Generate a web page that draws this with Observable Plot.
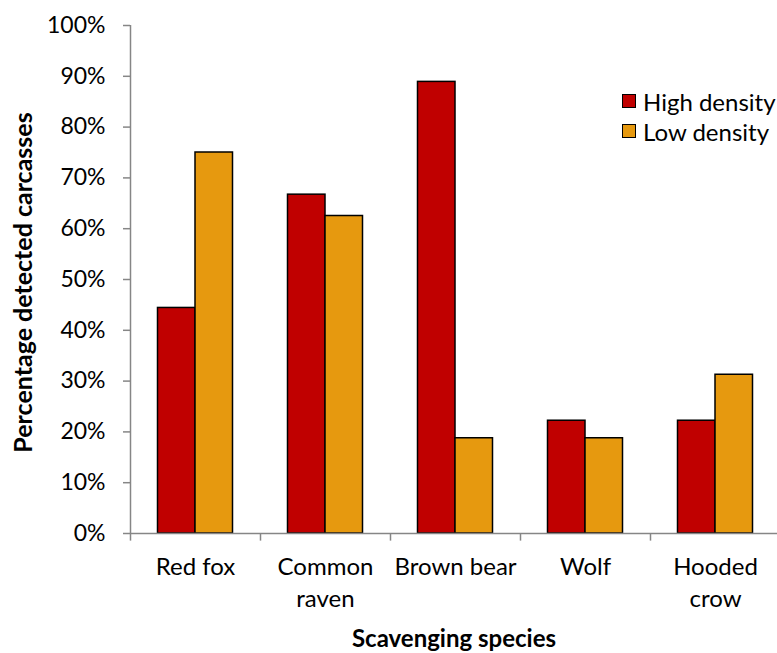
<!DOCTYPE html>
<html>
<head>
<meta charset="utf-8">
<script src="https://cdn.jsdelivr.net/npm/d3@7"></script>
<script src="https://cdn.jsdelivr.net/npm/@observablehq/plot@0.6"></script>
<style>
  html, body { margin: 0; padding: 0; background: #fff; }
  #chart { position: relative; width: 777px; height: 653px; font-family: Lato, "Open Sans", sans-serif; }
  #legend { position: absolute; left: 622px; top: 86px; font-size: 24px; color: #000; }
  #legend .item { display: flex; align-items: center; height: 30px; white-space: nowrap; }
  #legend .sw { width: 12px; height: 12px; border: 1.5px solid #000; margin-right: 7px; flex: none; }
</style>
</head>
<body>
<div id="chart"><div id="legend"></div></div>
<script>
// Share of carcasses detected by each scavenger, by carcass density
const species = ["Red fox", "Common raven", "Brown bear", "Wolf", "Hooded crow"];
const speciesLabels = ["Red fox", "Common\nraven", "Brown bear", "Wolf", "Hooded\ncrow"];
const highDensity = [44.4, 66.7, 88.9, 22.2, 22.2];
const lowDensity = [75.0, 62.5, 18.75, 18.75, 31.25];
const yTicks = [0, 10, 20, 30, 40, 50, 60, 70, 80, 90, 100];
const seriesNames = ["High density", "Low density"];
const seriesColors = ["#C00000", "#E6990F"];

const high = species.map((s, i) => ({species: s, value: highDensity[i]}));
const low = species.map((s, i) => ({species: s, value: lowDensity[i]}));

const xRange = [130, 780];
const band = (xRange[1] - xRange[0]) / species.length;
const barW = 37.5;
const outer = band / 2 - barW;
const axisGrey = "#868686";
const font = "Lato, 'Open Sans', sans-serif";

const chart = Plot.plot({
  width: 777,
  height: 653,
  marginLeft: 130,
  marginRight: 0,
  marginTop: 25,
  marginBottom: 120,
  style: {fontFamily: font, fontSize: "24px", color: "#000", background: "#fff"},
  x: {type: "band", domain: species, range: xRange, padding: 0, axis: null},
  y: {domain: [0, 100], label: null, axis: null},
  marks: [
    Plot.barY(high, {x: "species", y: "value", fill: seriesColors[0], stroke: "#000", strokeWidth: 1.5,
      insetLeft: outer, insetRight: band / 2}),
    Plot.barY(low, {x: "species", y: "value", fill: seriesColors[1], stroke: "#000", strokeWidth: 1.5,
      insetLeft: band / 2, insetRight: outer}),
    // axis lines
    Plot.ruleY([0], {stroke: axisGrey, strokeWidth: 1.5}),
    Plot.ruleX([species[0]], {dx: -band / 2, y1: 0, y2: 100, stroke: axisGrey, strokeWidth: 1.5}),
    // category boundary ticks below the x axis
    Plot.ruleX(species, {x: d => d, dx: -band / 2, y1: 0, y2: -1.5, stroke: axisGrey, strokeWidth: 1.5}),
    Plot.axisY({ticks: yTicks, tickFormat: d => d + "%", tickSize: 7, tickPadding: 18,
      stroke: axisGrey, strokeWidth: 1.5, fontSize: 23, label: null}),
    Plot.axisX({tickSize: 0, tickPadding: 19, tickFormat: d => speciesLabels[species.indexOf(d)],
      lineHeight: 1.33, fontSize: 24, label: null}),
    Plot.text(["Percentage detected carcasses"], {frameAnchor: "left", textAnchor: "middle", lineAnchor: "middle",
      rotate: -90, dx: -107, dy: 3, fontWeight: "bold", fontSize: 25}),
    Plot.text(["Scavenging species"], {frameAnchor: "bottom", lineAnchor: "middle", dy: 106,
      fontWeight: "bold", fontSize: 24})
  ]
});

const root = document.getElementById("chart");
root.insertBefore(chart, root.firstChild);

const legend = document.getElementById("legend");
seriesNames.forEach((name, i) => {
  const item = document.createElement("div");
  item.className = "item";
  const sw = document.createElement("span");
  sw.className = "sw";
  sw.style.background = seriesColors[i];
  item.appendChild(sw);
  item.appendChild(document.createTextNode(name));
  legend.appendChild(item);
});
</script>
</body>
</html>
